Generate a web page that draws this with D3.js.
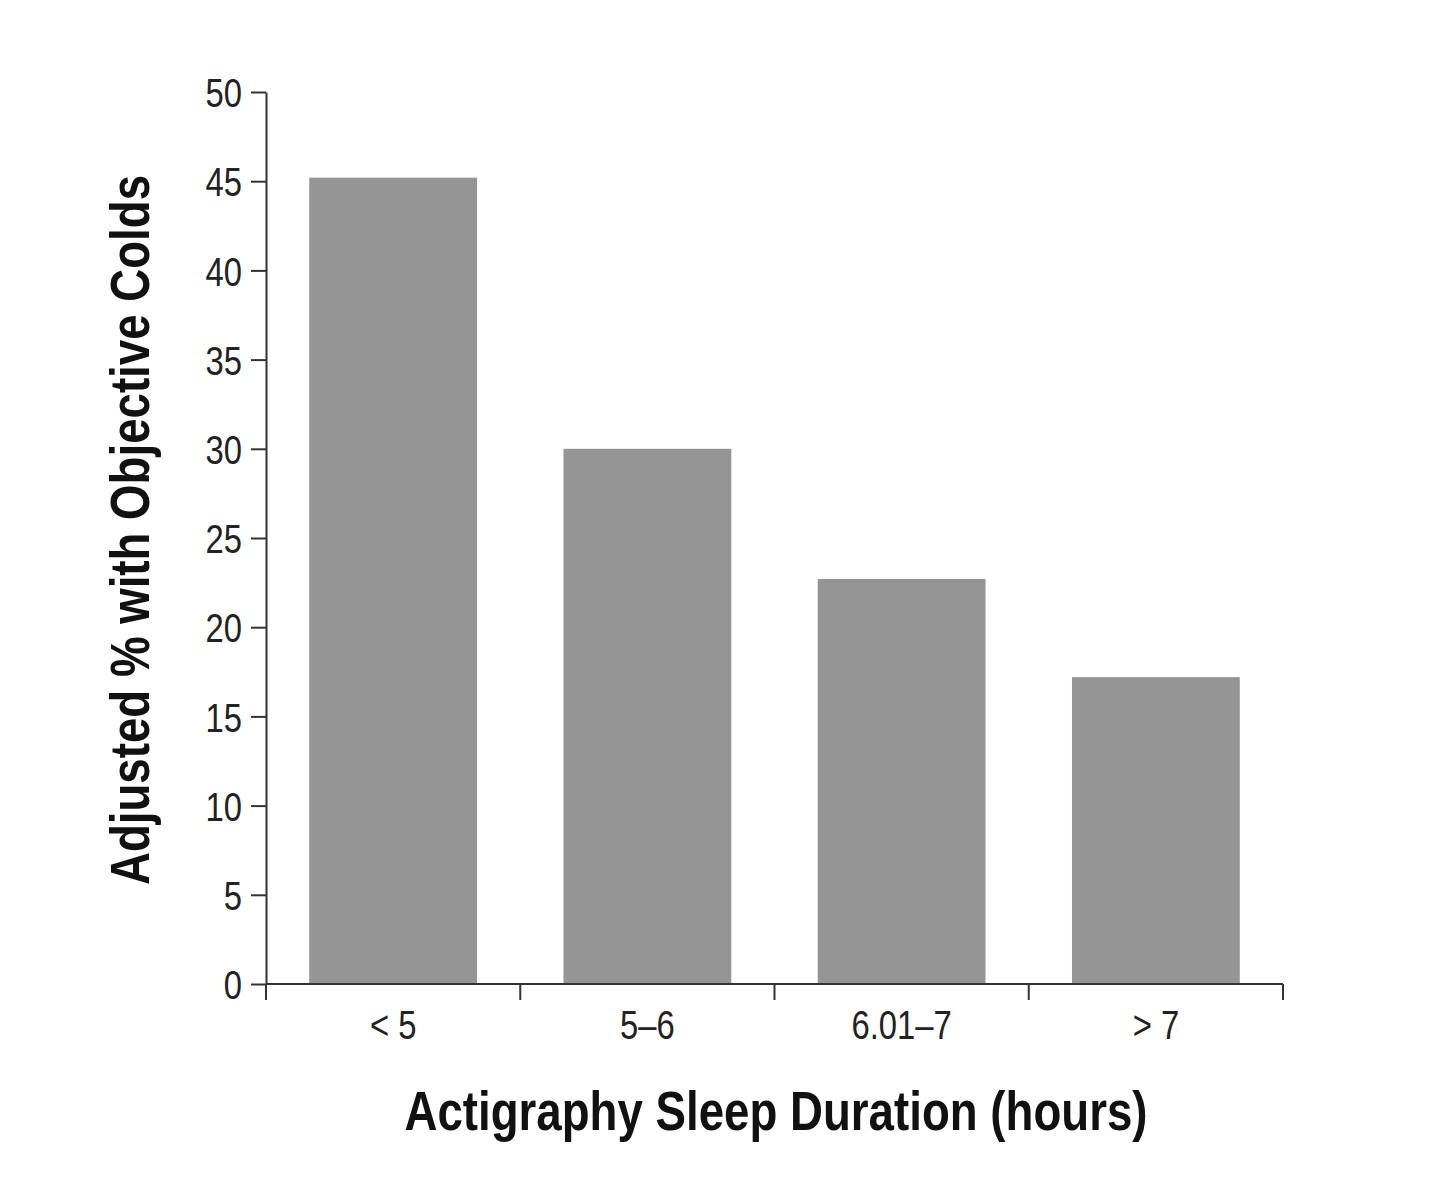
<!DOCTYPE html>
<html lang="en">
<head>
  <meta charset="utf-8">
  <title>Sleep duration and colds</title>
  <script src="https://d3js.org/d3.v7.min.js"></script>
  <style>
    body { margin: 0; background: #fff; }
    .axis text { font-family: "Liberation Sans", Arial, sans-serif; font-size: 41px; fill: #222; }
    .axis path, .axis line { stroke: #333; stroke-width: 2px; }
    .title { font-family: "Liberation Sans", Arial, sans-serif; font-weight: bold; font-size: 55px; fill: #111; }
  </style>
</head>
<body>
<script>
  // data
  const categories = ["< 5", "5\u20136", "6.01\u20137", "> 7"];
  const values = [45.2, 30.0, 22.7, 17.2];
  const yTicks = [0, 5, 10, 15, 20, 25, 30, 35, 40, 45, 50];

  const width = 1430, height = 1185;
  const margin = { left: 266, right: 147, top: 92, bottom: 201 };
  // narrow-font look: squeeze text horizontally
  const tickSqueeze = 0.8;
  const titleSqueeze = 0.83;

  const svg = d3.select("body").append("svg")
    .attr("width", width)
    .attr("height", height);

  const x = d3.scaleBand()
    .domain(categories)
    .range([margin.left, width - margin.right])
    .paddingInner(0.34)
    .paddingOuter(0.17);

  const y = d3.scaleLinear()
    .domain([0, 50])
    .range([height - margin.bottom, margin.top]);

  // bars
  svg.selectAll(".bar")
    .data(values)
    .join("rect")
    .attr("class", "bar")
    .attr("x", (d, i) => x(categories[i]))
    .attr("width", x.bandwidth())
    .attr("y", d => y(d))
    .attr("height", d => y(0) - y(d))
    .attr("fill", "#959595");

  // y axis
  svg.append("g")
    .attr("class", "axis")
    .attr("transform", `translate(${margin.left},0)`)
    .call(d3.axisLeft(y).tickValues(yTicks).tickSize(15).tickSizeOuter(0).tickPadding(9))
    .call(g => g.selectAll("text")
      .attr("dy", "0.36em")
      .attr("x", -24 / tickSqueeze)
      .attr("transform", `scale(${tickSqueeze},1)`));

  // x axis: ticks at band boundaries
  const xa = svg.append("g")
    .attr("class", "axis")
    .attr("transform", `translate(0,${y(0)})`);
  const boundaries = [x.range()[0]].concat(categories.map(c => x(c) + x.bandwidth() + x.step() * x.paddingInner() / 2));
  boundaries[boundaries.length - 1] = x.range()[1];
  xa.append("line")
    .attr("x1", x.range()[0]).attr("x2", x.range()[1])
    .attr("y1", 0).attr("y2", 0);
  xa.selectAll(".tk")
    .data(boundaries)
    .join("line")
    .attr("class", "tk")
    .attr("x1", d => d).attr("x2", d => d)
    .attr("y1", 0).attr("y2", 16);
  xa.selectAll(".lbl")
    .data(categories)
    .join("text")
    .attr("class", "lbl")
    .attr("transform", d => `translate(${x(d) + x.bandwidth() / 2},55) scale(${tickSqueeze},1)`)
    .attr("text-anchor", "middle")
    .text(d => d);

  // axis titles
  svg.append("text")
    .attr("class", "title")
    .attr("transform", `translate(776,1130) scale(${titleSqueeze},1)`)
    .attr("text-anchor", "middle")
    .text("Actigraphy Sleep Duration (hours)");

  svg.append("text")
    .attr("class", "title")
    .attr("transform", `translate(149,530) rotate(-90) scale(${titleSqueeze},1)`)
    .attr("text-anchor", "middle")
    .text("Adjusted % with Objective Colds");
</script>
</body>
</html>
